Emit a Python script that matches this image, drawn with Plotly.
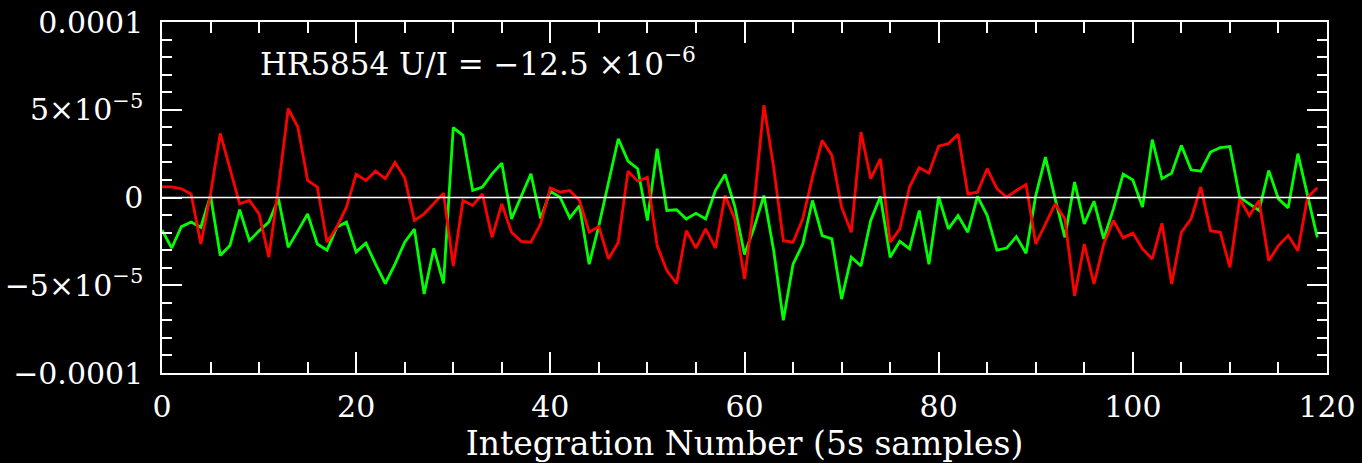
import plotly.graph_objects as go

integration = list(range(120))

red_vals = [0.6, 0.6, 0.5, 0.2, -2.65, 0.2, 3.65, 1.7, -0.36, -0.17,
            -0.93, -3.4, 0.6, 5.07, 4.0, 0.97, 0.6, -2.55, -1.7, -0.55,
            1.33, 0.97, 1.5, 1.07, 2.0, 1.12, -1.31, -0.93, -0.36, 0.25,
            -3.9, -0.17, -0.46, 0.2, -2.27, -0.36, -1.98, -2.5, -2.55, -1.5,
            0.55, 0.3, 0.4, -0.17, -1.98, -1.66, -3.5, -2.55, 1.5, 0.93,
            1.16, -2.74, -4.17, -4.9, -1.89, -2.88, -1.79, -2.88, 0.11, -1.22,
            -4.65, -0.3, 5.26, 1.73, -2.46, -2.55, -1.22, 1.16, 3.26, 2.4,
            -0.55, -1.98, 3.73, 1.07, 2.2, -2.55, -1.79, 0.6, 1.7, 1.4,
            2.93, 3.07, 3.6, 0.2, 0.3, 1.64, 0.5, 0.02, 0.4, 0.74,
            -2.65, -1.5, -0.36, -1.22, -5.6, -2.65, -4.93, -2.65, -1.31, -2.3,
            -2.03, -2.93, -3.5, -1.47, -4.93, -1.98, -1.22, 0.6, -1.89, -1.98,
            -3.98, -0.08, -1.03, -0.17, -3.6, -2.74, -2.17, -3.03, 0.02, 0.55]

green_vals = [-1.85, -2.88, -1.66, -1.4, -1.7, 0.1, -3.3, -2.74, -0.69, -2.46,
              -1.9, -1.4, -0.08, -2.84, -1.9, -0.93, -2.65, -3.0, -1.7, -1.4,
              -3.1, -2.6, -3.8, -4.9, -3.8, -2.55, -1.8, -5.5, -2.9, -4.9,
              3.98, 3.54, 0.4, 0.6, 1.35, 1.96, -1.22, 0.02, 1.35, -1.2,
              0.35, 0.02, -1.16, -0.46, -3.8, -1.6, 0.88, 3.35, 2.08, 1.64,
              -1.31, 2.78, -0.74, -0.7, -1.22, -0.9, -1.22, 0.4, 1.31, -0.5,
              -3.25, -1.7, 0.11, -3.0, -7.0, -3.8, -2.65, -0.17, -2.17, -2.36,
              -5.79, -3.4, -3.9, -1.31, 0.06, -3.4, -2.5, -2.93, -0.74, -3.8,
              0.04, -1.79, -1.03, -1.98, 0.06, -1.03, -3.0, -2.88, -2.23, -3.18,
              0.11, 2.3, -0.08, -2.27, 0.88, -1.5, -0.21, -2.36, -0.65, 1.33,
              1.0, -0.55, 3.3, 1.07, 1.39, 2.97, 1.58, 1.5, 2.59, 2.84,
              2.9, 0.02, -0.36, -0.74, 1.54, -0.08, -0.59, 2.5, 0.11, -2.27]

scale = 1e-5
red = [v * scale for v in red_vals]
green = [v * scale for v in green_vals]

y_tickvals = [-1e-4, -5e-5, 0, 5e-5, 1e-4]
y_ticktext = ["\u22120.0001", "\u22125\u00d710<sup>\u22125</sup>", "0",
              "5\u00d710<sup>\u22125</sup>", "0.0001"]
x_tickvals = [0, 20, 40, 60, 80, 100, 120]

FONT = "DejaVu Serif"

fig = go.Figure()
fig.add_trace(go.Scatter(x=integration, y=green, mode="lines",
                         line=dict(color="#00ff00", width=2.8), showlegend=False))
fig.add_trace(go.Scatter(x=integration, y=red, mode="lines",
                         line=dict(color="#ff0000", width=2.8), showlegend=False))

fig.add_shape(type="line", xref="x domain", yref="y", x0=0, x1=1, y0=0, y1=0,
              line=dict(color="white", width=1.5), layer="above")

fig.add_annotation(xref="paper", yref="paper", x=0.082, y=0.885,
                   xanchor="left", yanchor="middle", showarrow=False,
                   text="HR5854 U/I = \u221212.5 \u00d710<sup>\u22126</sup>",
                   font=dict(family=FONT, size=31, color="white"))

fig.update_layout(
    width=1362, height=463,
    paper_bgcolor="black", plot_bgcolor="black",
    margin=dict(l=162, r=35, t=22, b=90, autoexpand=False),
    font=dict(family=FONT, size=30, color="white"),
    xaxis=dict(range=[0, 120], tickvals=x_tickvals, ticks="inside", ticklen=21,
               tickwidth=1.5, tickcolor="white", showline=True, linecolor="white",
               linewidth=1.5, mirror="ticks", showgrid=False, zeroline=False,
               ticklabelstandoff=6, automargin=False,
               minor=dict(dtick=5, ticks="inside", ticklen=11, tickwidth=1.5,
                          tickcolor="white", showgrid=False),
               title=dict(text="Integration Number (5s samples)", standoff=4,
                          font=dict(family=FONT, size=33, color="white"))),
    yaxis=dict(range=[-1e-4, 1e-4], tickvals=y_tickvals, ticktext=y_ticktext,
               ticks="inside", ticklen=20, tickwidth=1.5, tickcolor="white",
               showline=True, linecolor="white", linewidth=1.5, mirror="ticks",
               showgrid=False, zeroline=False, ticklabelstandoff=11,
               automargin=False,
               minor=dict(dtick=1e-5, ticks="inside", ticklen=10, tickwidth=1.5,
                          tickcolor="white", showgrid=False)),
)

fig.write_html("out.html", config={"displayModeBar": False},
               post_script="document.body.style.margin='0';"
                           "document.body.style.background='black';")
